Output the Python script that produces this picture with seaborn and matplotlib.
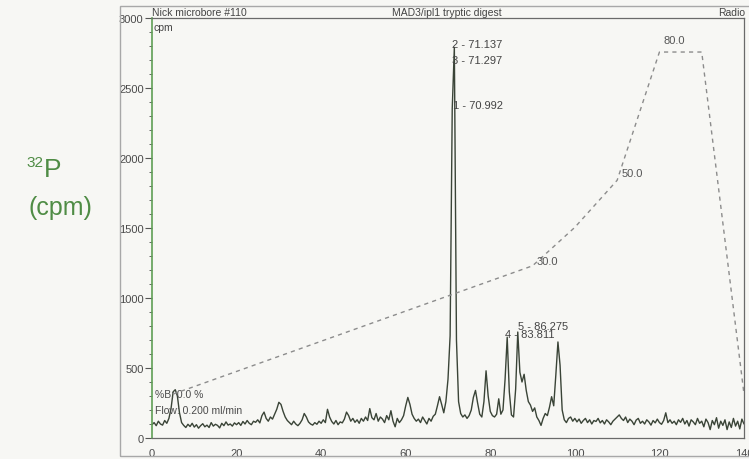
import numpy as np
import matplotlib
matplotlib.use("Agg")
import matplotlib.pyplot as plt
import seaborn as sns
from matplotlib.ticker import MultipleLocator
from matplotlib.patches import Rectangle

# ---------------- data ----------------
step_min = 0.5  # sampling step of the trace (min)

cpm_00_10 = [95, 110, 88, 120, 100, 92, 125, 105, 140, 210, 330, 345, 300, 180, 110,
             90, 75, 98, 82, 105, 78]
cpm_10_20 = [95, 70, 88, 102, 80, 92, 75, 110, 85, 98, 90, 72, 105, 88, 115, 92, 100,
             85, 108, 95]
cpm_20_30 = [110, 90, 118, 100, 125, 105, 95, 120, 112, 130, 108, 160, 185, 140, 120,
             150, 135, 170, 205, 255]
cpm_30_40 = [240, 190, 150, 125, 110, 95, 120, 100, 88, 105, 130, 175, 150, 115, 100,
             92, 110, 98, 120, 105]
cpm_40_50 = [130, 110, 205, 150, 118, 100, 125, 95, 115, 108, 135, 185, 160, 120, 140,
             112, 130, 105, 140, 120]
cpm_50_60 = [150, 125, 210, 145, 130, 175, 120, 150, 135, 110, 160, 130, 195, 120, 80,
             140, 110, 130, 160, 230]
cpm_60_70 = [290, 240, 170, 140, 120, 135, 110, 150, 125, 100, 140, 120, 155, 170, 230,
             295, 240, 180, 260, 420]
cpm_70_80 = [730, 2350, 2790, 700, 260, 175, 150, 165, 140, 160, 200, 290, 340, 250,
             170, 150, 260, 480, 300, 190]
cpm_80_90 = [160, 150, 170, 280, 170, 200, 420, 720, 330, 165, 150, 350, 757, 470, 400,
             455, 340, 260, 235, 190]
cpm_90_100 = [215, 150, 125, 90, 140, 175, 160, 220, 295, 230, 450, 686, 520, 200, 130,
              110, 140, 150, 120, 140]
cpm_100_110 = [115, 135, 105, 125, 140, 110, 130, 100, 125, 118, 140, 108, 125, 100,
               130, 115, 95, 120, 135, 150]
cpm_110_120 = [165, 140, 125, 150, 110, 135, 120, 95, 128, 140, 105, 120, 100, 130, 115,
               92, 125, 108, 135, 110]
cpm_120_130 = [98, 125, 180, 110, 130, 105, 120, 95, 130, 112, 140, 100, 125, 85, 130,
               115, 95, 140, 105, 120]
cpm_130_140 = [80, 135, 110, 60, 125, 95, 145, 70, 120, 90, 130, 60, 115, 75, 140, 85,
               120, 65, 135, 100]

cpm = (cpm_00_10 + cpm_10_20 + cpm_20_30 + cpm_30_40 + cpm_40_50 + cpm_50_60 +
       cpm_60_70 + cpm_70_80 + cpm_80_90 + cpm_90_100 + cpm_100_110 + cpm_110_120 +
       cpm_120_130 + cpm_130_140)
time_min = np.arange(len(cpm)) * step_min

# solvent gradient (%B)
grad_time = [5, 90, 100, 110, 120, 130, 140]
grad_pctB = [0, 30, 39, 50, 80, 80, 0]
grad_label_text = ["30.0", "50.0", "80.0"]
grad_label_time = [91, 111, 121]
grad_label_pct = [31.1, 51.6, 82.7]

# peak annotations
peak_text = ["2 - 71.137", "3 - 71.297", "1 - 70.992", "4 - 83.811", "5 - 86.275"]
peak_time = [71.0, 71.0, 71.2, 83.5, 86.6]
peak_cpm = [2814, 2700, 2379, 743, 800]

x_ticks = [0, 20, 40, 60, 80, 100, 120, 140]
y_ticks = [0, 500, 1000, 1500, 2000, 2500, 3000]

# ---------------- style ----------------
sns.set_style("white")
plt.rcParams["font.family"] = ["Liberation Sans", "DejaVu Sans"]

W, H = 749, 460
bg = "#f7f7f4"
fig = plt.figure(figsize=(W / 100, H / 100), dpi=100, facecolor=bg)
ax = fig.add_axes([152 / W, 1 - 439 / H, (744 - 152) / W, (439 - 19) / H])
ax.set_facecolor(bg)

# outer frame of the printout
fig.patches.append(Rectangle((120 / W, 1 - 457 / H), (W - 120) / W + 0.01, (457 - 7) / H,
                             transform=fig.transFigure, fill=False,
                             edgecolor="#a8a8a8", lw=1.0))

trace_col = "#3a4437"
sns.lineplot(x=time_min, y=cpm, ax=ax, color=trace_col, lw=1.0)

ax.set_xlim(0, 140)
ax.set_ylim(0, 3000)
ax.set_xticks(x_ticks)
ax.set_yticks(y_ticks)
ax.xaxis.set_minor_locator(MultipleLocator(5))
ax.yaxis.set_minor_locator(MultipleLocator(100))
ax.tick_params(axis="both", which="major", direction="out", length=5, width=0.8,
               labelsize=8, labelcolor="#4a4a4a", color="#555555", pad=1)
ax.tick_params(axis="both", which="minor", direction="out", length=2.5, width=0.7,
               color="#666666")
ax.tick_params(axis="x", which="major", pad=2)
ax.set_xlabel("")
ax.set_ylabel("")
for side in ["top", "right", "bottom"]:
    ax.spines[side].set_visible(True)
    ax.spines[side].set_color("#6a6a6a")
    ax.spines[side].set_linewidth(0.9)
ax.spines["left"].set_color("#5f9f55")
ax.spines["left"].set_linewidth(1.2)

# gradient on a hidden twin axis
ax2 = ax.twinx()
sns.lineplot(x=grad_time, y=grad_pctB, ax=ax2, color="#8c8c8c", lw=1.0)
ax2.lines[0].set_dashes((3, 3))
ax2.set_ylim(-10.28, 87.96)
ax2.set_xlim(0, 140)
ax2.set_axis_off()
for t, b, s in zip(grad_label_time, grad_label_pct, grad_label_text):
    ax2.text(t, b, s, fontsize=8, color="#555555", ha="left", va="center")

# peak labels
for s, t, c in zip(peak_text, peak_time, peak_cpm):
    ax.text(t, c, s, fontsize=8, color="#444444", ha="left", va="center")

# in-plot notes
ax.text(0.4, 2936, "cpm", fontsize=7.5, color="#444444", ha="left", va="center")
ax.text(0.7, 314, "%B: 0.0 %", fontsize=7.5, color="#4a4a4a", ha="left", va="center")
ax.text(0.7, 200, "Flow: 0.200 ml/min", fontsize=7.5, color="#4a4a4a", ha="left",
        va="center")

# header line
fig.text(152 / W, 1 - 13 / H, "Nick microbore #110", fontsize=7.5, color="#444444",
         ha="left", va="center")
fig.text(447 / W, 1 - 13 / H, "MAD3/ipl1 tryptic digest", fontsize=7.5, color="#444444",
         ha="center", va="center")
fig.text(745 / W, 1 - 13 / H, "Radio", fontsize=7.5, color="#444444", ha="right",
         va="center")

# axis title at the left
green = "#4f8c45"
fig.text(26 / W, 1 - 163 / H, "32", fontsize=11, color=green, ha="left", va="center")
fig.text(44 / W, 1 - 170 / H, "P", fontsize=19, color=green, ha="left", va="center")
fig.text(60 / W, 1 - 208 / H, "(cpm)", fontsize=18, color=green, ha="center",
         va="center")

fig.savefig("out.png", dpi=100, facecolor=bg)
